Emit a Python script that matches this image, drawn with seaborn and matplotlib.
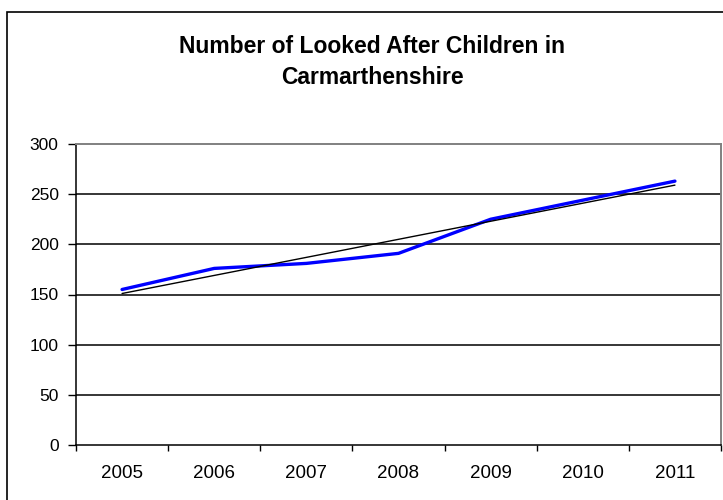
import numpy as np
import pandas as pd
import matplotlib
matplotlib.use("Agg")
import matplotlib.pyplot as plt
from matplotlib.patches import Rectangle
import seaborn as sns

# Looked after children in Carmarthenshire, by year
years = ["2005", "2006", "2007", "2008", "2009", "2010", "2011"]
children = [155, 176, 181, 191, 225, 244, 263]
y_ticks = [0, 50, 100, 150, 200, 250, 300]
title_lines = ["Number of Looked After Children in", "Carmarthenshire"]

df = pd.DataFrame({"pos": np.arange(len(years)), "year": years, "children": children})

sns.set_theme(style="white")
plt.rcParams["font.family"] = ["Liberation Sans", "DejaVu Sans"]

W, H = 723, 500
fig = plt.figure(figsize=(W / 100, H / 100), dpi=100)
ax = fig.add_axes([76 / W, 55 / H, 645 / W, 301 / H])

# Outer chart frame (extends past the right and bottom edges)
fig.patches.append(Rectangle((7 / W, -0.2), 1.0, 1.2 - 12 / H,
                             transform=fig.transFigure, fill=False,
                             edgecolor="black", linewidth=1.2, zorder=0))

# Horizontal gridlines
for t in y_ticks[1:-1]:
    ax.axhline(t, color="black", linewidth=1.1, zorder=1)

sns.lineplot(data=df, x="pos", y="children", color="#0000FF", linewidth=2.4,
             ax=ax, zorder=3)
sns.regplot(data=df, x="pos", y="children", scatter=False, ci=None,
            truncate=True, color="black", line_kws={"linewidth": 1.0, "zorder": 4},
            ax=ax)

ax.set_xlim(-0.5, len(years) - 0.5)
ax.set_ylim(0, 300)
ax.set_yticks(y_ticks)
ax.set_yticklabels([str(t) for t in y_ticks], fontsize=12.5)
ax.set_xticks(np.arange(len(years)))
ax.set_xticklabels(years, fontsize=13.5)
ax.set_xticks(np.arange(len(years) + 1) - 0.5, minor=True)
ax.tick_params(axis="x", which="major", length=0, pad=14.5, colors="black")
ax.tick_params(axis="x", which="minor", length=4.5, width=1, direction="out",
               color="black", bottom=True)
ax.tick_params(axis="y", length=5.5, width=1, direction="out", color="black",
               left=True, pad=7, colors="black")
ax.set_xlabel("")
ax.set_ylabel("")

for side in ["left", "bottom"]:
    ax.spines[side].set_color("black")
    ax.spines[side].set_linewidth(1.1)
for side in ["top", "right"]:
    ax.spines[side].set_color("#808080")
    ax.spines[side].set_linewidth(1.4)
    ax.spines[side].set_visible(True)

# Two-line bold title
for line, base in zip(title_lines, [53, 84]):
    fig.text(372 / W, 1 - base / H, line, ha="center", va="baseline",
             fontsize=16.5, fontweight="bold", color="black")

fig.savefig("out.png", dpi=100, facecolor="white")
